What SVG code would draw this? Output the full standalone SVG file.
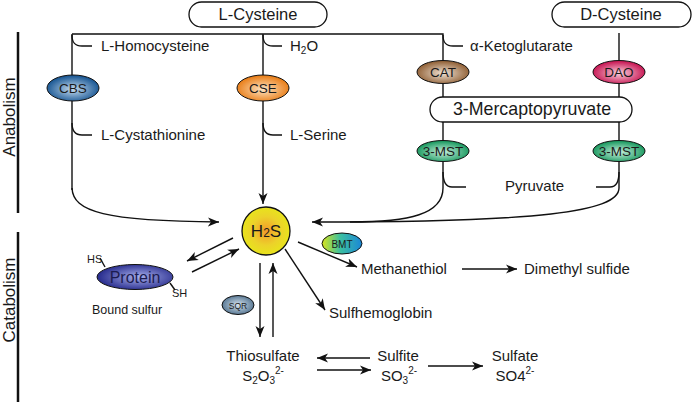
<svg xmlns="http://www.w3.org/2000/svg" width="694" height="406" viewBox="0 0 694 406">
<defs>
<marker id="ah" markerUnits="userSpaceOnUse" markerWidth="12" markerHeight="10" refX="11" refY="5" orient="auto">
<path d="M0,0.5 L11,5 L0,9.5 L3,5 z" fill="#111"/>
</marker>
<radialGradient id="gCBS" cx="50%" cy="55%" r="55%"><stop offset="0" stop-color="#c6dcf0"/><stop offset="1" stop-color="#0f4f8e"/></radialGradient>
<radialGradient id="gCSE" cx="50%" cy="55%" r="55%"><stop offset="0" stop-color="#fde4c4"/><stop offset="1" stop-color="#e8780e"/></radialGradient>
<radialGradient id="gCAT" cx="50%" cy="55%" r="55%"><stop offset="0" stop-color="#efe2d4"/><stop offset="1" stop-color="#8c5a2e"/></radialGradient>
<radialGradient id="gDAO" cx="50%" cy="55%" r="55%"><stop offset="0" stop-color="#fbd0dc"/><stop offset="1" stop-color="#c40c4c"/></radialGradient>
<radialGradient id="gMST" cx="50%" cy="55%" r="55%"><stop offset="0" stop-color="#c8f0de"/><stop offset="1" stop-color="#109458"/></radialGradient>
<radialGradient id="gH2S" cx="50%" cy="50%" r="50%"><stop offset="0" stop-color="#f29a2a"/><stop offset="0.6" stop-color="#ecd22a"/><stop offset="1" stop-color="#e8e41c"/></radialGradient>
<radialGradient id="gProt" cx="55%" cy="50%" r="55%"><stop offset="0" stop-color="#a8b0ec"/><stop offset="1" stop-color="#262a8c"/></radialGradient>
<radialGradient id="gSQR" cx="50%" cy="50%" r="55%"><stop offset="0" stop-color="#d4e2ee"/><stop offset="1" stop-color="#4e6f8c"/></radialGradient>
<linearGradient id="gBMT" x1="0" y1="0" x2="1" y2="0"><stop offset="0" stop-color="#d8e41c"/><stop offset="0.45" stop-color="#3cc0a0"/><stop offset="1" stop-color="#1a86d8"/></linearGradient>
</defs>
<style>
text{font-family:"Liberation Sans",Arial,sans-serif;fill:#1a1a1a}
.lbl{font-size:15px}
.box{fill:#fff;stroke:#111;stroke-width:1.3}
.enz{stroke:#111;stroke-width:1}
.etx{font-size:13.5px;text-anchor:middle}
.ln{fill:none;stroke:#111;stroke-width:1.4}
.ar{fill:none;stroke:#111;stroke-width:1.4;marker-end:url(#ah)}
.mid{text-anchor:middle}
.side{font-size:17px;text-anchor:middle}
</style>

<g id="connectors">
<path class="ln" d="M72,34 H443 V62"/>
<path class="ln" d="M72,34 V190"/>
<path class="ar" d="M72,188 C73,212 105,221 219,222"/>
<path class="ar" d="M263,34 V204"/>
<path class="ln" d="M443,82 V97"/>
<path class="ln" d="M619,33 V62"/>
<path class="ln" d="M619,82 V97"/>
<path class="ln" d="M443,122 V142"/>
<path class="ln" d="M619,122 V142"/>
<path class="ln" d="M443,162 V188 C443,214 410,222 350,222"/>
<path class="ar" d="M619,162 V188 C619,212 540,222 312,222"/>
<!-- hooks -->
<path class="ln" d="M72,35 C72,43 75,46 82,46 H92"/>
<path class="ln" d="M72,123 C72,131 75,135 82,135 H92"/>
<path class="ln" d="M263,35 C263,43 266,46 273,46 H282"/>
<path class="ln" d="M263,123 C263,131 266,135 273,135 H282"/>
<path class="ln" d="M443,35 C443,43 446,46 453,46 H463"/>
<path class="ln" d="M443,172 C443,181 446,187 452,187 H466"/>
<path class="ln" d="M619,172 C619,181 616,187 610,187 H596"/>
<!-- catabolism -->
<path class="ar" d="M233,238 L187,261"/>
<path class="ar" d="M192,272 L239,249"/>
<path class="ar" d="M260,263 V337"/>
<path class="ar" d="M273,337 V263"/>
<path class="ar" d="M285,249 L325,310"/>
<path class="ar" d="M298,242 L357,267"/>
<path class="ar" d="M462,269 H517"/>
<path class="ar" d="M370,358 H317"/>
<path class="ar" d="M317,370 H371"/>
<path class="ar" d="M428,366 H483"/>
<path class="ln" d="M100,258 L105,267" stroke-width="1"/>
<path class="ln" d="M170,283 L175,290" stroke-width="1"/>
</g>

<g id="side-labels">
<line x1="18" y1="32" x2="18" y2="213" stroke="#111" stroke-width="2.5"/>
<line x1="18" y1="232" x2="18" y2="402" stroke="#111" stroke-width="2.5"/>
<text class="side" transform="translate(15,117) rotate(-90)">Anabolism</text>
<text class="side" transform="translate(15,300) rotate(-90)">Catabolism</text>
</g>

<g id="l-cysteine"><rect class="box" x="189" y="2" width="138" height="25" rx="12.5"/><text class="mid" x="258" y="20" font-size="16.5">L-Cysteine</text></g>
<g id="d-cysteine"><rect class="box" x="552" y="2" width="139" height="25" rx="12.5"/><text class="mid" x="621" y="20" font-size="16.5">D-Cysteine</text></g>
<g id="mercaptopyruvate"><rect class="box" x="430" y="97" width="202" height="25" rx="12.5"/><text class="mid" x="532" y="115" font-size="17.8">3-Mercaptopyruvate</text></g>

<g id="l-homocysteine"><text class="lbl" x="101" y="51">L-Homocysteine</text></g>
<g id="l-cystathionine"><text class="lbl" x="101" y="140">L-Cystathionine</text></g>
<g id="h2o"><text class="lbl" x="290" y="51">H<tspan font-size="10" dy="3">2</tspan><tspan dy="-3">O</tspan></text></g>
<g id="l-serine"><text class="lbl" x="290" y="140">L-Serine</text></g>
<g id="a-ketoglutarate"><text class="lbl" x="470" y="51">α-Ketoglutarate</text></g>
<g id="pyruvate"><text class="lbl" x="505" y="191">Pyruvate</text></g>

<g id="cbs"><ellipse class="enz" cx="73" cy="88" rx="26" ry="13" fill="url(#gCBS)"/><text class="etx" x="73" y="93">CBS</text></g>
<g id="cse"><ellipse class="enz" cx="263" cy="88" rx="26" ry="13" fill="url(#gCSE)"/><text class="etx" x="263" y="93">CSE</text></g>
<g id="cat"><ellipse class="enz" cx="443" cy="72" rx="26" ry="11.5" fill="url(#gCAT)"/><text class="etx" x="443" y="77">CAT</text></g>
<g id="dao"><ellipse class="enz" cx="619" cy="72" rx="26" ry="11.5" fill="url(#gDAO)"/><text class="etx" x="619" y="77">DAO</text></g>
<g id="mst-left"><ellipse class="enz" cx="443" cy="151" rx="26" ry="10.5" fill="url(#gMST)"/><text class="etx" x="443" y="156">3-MST</text></g>
<g id="mst-right"><ellipse class="enz" cx="619" cy="151" rx="26" ry="10.5" fill="url(#gMST)"/><text class="etx" x="619" y="156">3-MST</text></g>

<g id="h2s"><circle cx="266" cy="231" r="24" fill="url(#gH2S)" stroke="#111" stroke-width="1.3"/><text class="mid" x="266" y="237" font-size="17">H<tspan font-size="12">2</tspan>S</text></g>

<g id="protein"><ellipse class="enz" cx="135" cy="277" rx="38" ry="12.5" fill="url(#gProt)"/><text class="mid" x="135" y="283" font-size="16" style="fill:#1c1c50">Protein</text>
<text x="87" y="263" font-size="11">HS</text><text x="172" y="297" font-size="11">SH</text>
<text x="92" y="314" font-size="12.5">Bound sulfur</text></g>

<g id="sqr"><ellipse class="enz" cx="238" cy="305" rx="16" ry="9.5" fill="url(#gSQR)"/><text class="mid" x="238" y="308.5" font-size="8.5">SQR</text></g>
<g id="bmt"><ellipse class="enz" cx="342" cy="243.5" rx="20" ry="10.5" fill="url(#gBMT)"/><text class="mid" x="342" y="247.5" font-size="10">BMT</text></g>

<g id="methanethiol"><text class="lbl" x="361" y="274">Methanethiol</text></g>
<g id="dimethyl-sulfide"><text class="lbl" x="524" y="274">Dimethyl sulfide</text></g>
<g id="sulfhemoglobin"><text class="lbl" x="329" y="318">Sulfhemoglobin</text></g>
<g id="thiosulfate"><text class="lbl mid" x="263" y="361">Thiosulfate</text><text class="lbl mid" x="263" y="381">S<tspan font-size="10" dy="3">2</tspan><tspan dy="-3">O</tspan><tspan font-size="10" dy="3">3</tspan><tspan font-size="10" dy="-10">2-</tspan></text></g>
<g id="sulfite"><text class="lbl mid" x="398" y="361">Sulfite</text><text class="lbl mid" x="399" y="381">SO<tspan font-size="10" dy="3">3</tspan><tspan font-size="10" dy="-10">2-</tspan></text></g>
<g id="sulfate"><text class="lbl mid" x="515" y="361">Sulfate</text><text class="lbl mid" x="515" y="381">SO4<tspan font-size="10" dy="-7">2-</tspan></text></g>
</svg>
